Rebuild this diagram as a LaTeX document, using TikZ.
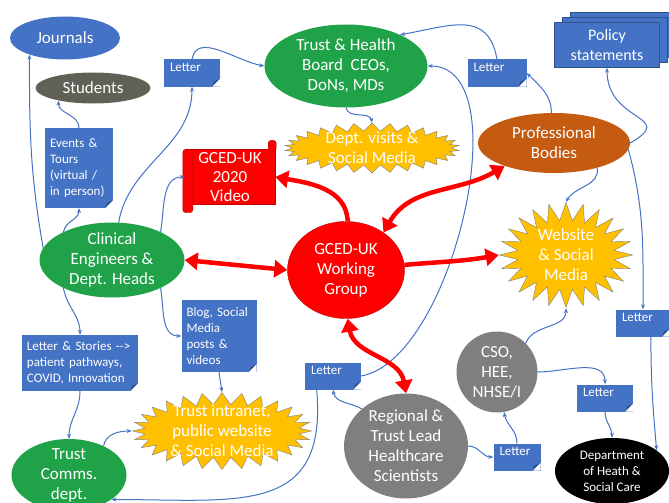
\documentclass[tikz,border=0pt]{standalone}
\usepackage{fontspec}
\setmainfont{Carlito}
\usepackage{tikz}
\usetikzlibrary{positioning,shapes.geometric,shapes.symbols,shadows,arrows.meta}

\definecolor{docblue}{RGB}{68,114,196}
\definecolor{docdark}{RGB}{47,82,143}
\definecolor{cegreen}{RGB}{32,163,72}
\definecolor{stgray}{RGB}{96,96,86}
\definecolor{burstyellow}{RGB}{255,192,0}
\definecolor{profbrown}{RGB}{197,90,17}
\definecolor{hsgray}{RGB}{127,127,127}
\definecolor{darkred}{RGB}{192,0,0}

\newcommand{\bigtxt}{\fontsize{17}{20}\selectfont}
\newcommand{\notetxt}{\fontsize{13}{16}\selectfont}

\begin{document}
\begin{tikzpicture}[x=1pt,y=1pt,on grid,
  bubble/.style={ellipse,inner sep=0pt,inner ysep=-2pt,text=white,align=center,font=\bigtxt},
  burst/.style={starburst,random starburst=0,fill=burstyellow,draw=hsgray,text=white,align=center,font=\bigtxt,inner sep=0pt},
  note/.style={rectangle,fill=docblue,text=white,align=left,font=\notetxt,inner xsep=5pt,inner ysep=3pt,
    path picture={
      \fill[white] ([xshift=-8pt]path picture bounding box.south east) -- ([yshift=8pt]path picture bounding box.south east) -- (path picture bounding box.south east) -- cycle;
      \fill[docdark] ([xshift=-8pt]path picture bounding box.south east) -- ([yshift=8pt]path picture bounding box.south east) -- ([xshift=-6pt,yshift=5pt]path picture bounding box.south east) -- cycle;}},
  letter/.style={note,text width=44pt,text height=9pt,text depth=12pt,inner xsep=6pt},
  link/.style={docblue,line width=1pt,-{Stealth[length=5pt,width=4pt]}},
  bigred/.style={red,line width=4.5pt,>={Triangle[length=13pt,width=17pt]}}]
  \useasboundingbox (0,0) rectangle (669,-503);

  \node[bubble,fill=red,draw=darkred,minimum width=117pt,minimum height=97pt] (gced) at (346,-270) {GCED-UK\\Working\\Group};
  \node[bubble,fill=cegreen,minimum width=145pt,minimum height=75pt] (clin) [above left=10pt and 234pt of gced] {Clinical\\Engineers \&\\Dept. Heads};
  \node[bubble,fill=docblue,minimum width=110pt,minimum height=43pt] (jour) [above left=222pt and 47pt of clin] {Journals};
  \node[bubble,fill=stgray,minimum width=115pt,minimum height=31pt] (stud) [below right=50pt and 28pt of jour] {Students};
  \node[note,text width=58pt,minimum height=80pt] (events) [above left=92pt and 33pt of clin] {Events \&\\Tours\\(virtual /\\in person)};
  \node[bubble,fill=cegreen,minimum width=163pt,minimum height=83pt] (trust) [above=204pt of gced] {Trust \& Health\\Board\ \ CEOs,\\DoNs, MDs};
  \node[letter] (lettA) [below left=7pt and 154pt of trust] {Letter};
  \node[burst,starburst points=30,starburst point height=8pt,inner ysep=-6pt,minimum width=175pt,minimum height=50pt] (visits) [below right=82pt and 26pt of trust] {Dept. visits \&\\Social Media};
  \node[letter,text width=47pt] (lettB) [below right=7pt and 151pt of trust] {Letter};
  \node[bubble,fill=profbrown,minimum width=152pt,minimum height=60pt] (prof) [above right=127pt and 208pt of gced] {Professional\\Bodies};
  \node[rectangle,fill=docblue,draw=docdark,text=white,align=center,font=\fontsize{16}{20}\selectfont,inner sep=0pt,minimum width=105pt,minimum height=45pt,
    copy shadow={shadow xshift=16pt,shadow yshift=10pt,fill=docblue,draw=docdark},
    copy shadow={shadow xshift=8pt,shadow yshift=5pt,fill=docblue,draw=docdark}] (policy) [above right=98pt and 53pt of prof] {Policy\\statements};
  \node[rectangle,fill=red,draw=darkred,text=white,align=center,font=\fontsize{17}{19}\selectfont,inner sep=0pt,minimum width=90pt,minimum height=55pt] (video) [above left=93pt and 116pt of gced] {GCED-UK\\2020\\Video};
  \filldraw[fill=red,draw=darkred,rounded corners=3pt] ([xshift=-2pt]video.north west) rectangle ([xshift=8pt,yshift=-8pt]video.south west);
  \filldraw[fill=red,draw=darkred,rounded corners=3pt] ([xshift=-7pt,yshift=9pt]video.north east) rectangle ([xshift=1pt,yshift=-2pt]video.north east);
  \node[burst,starburst points=24,starburst point height=18pt,inner ysep=-4pt,minimum width=133pt,minimum height=105pt] (web) [above right=15pt and 220pt of gced] {Website\\\& Social\\Media};
  \node[note,text width=65pt,minimum height=72pt] (blog) [below right=76pt and 107pt of clin] {Blog, Social\\Media\\posts \&\\videos};
  \node[note,text width=106pt,minimum height=56pt] (stories) [below left=103pt and 32pt of clin] {Letter \& Stories -{}->\\patient pathways,\\COVID, Innovation};
  \node[burst,starburst points=28,starburst point height=12pt,inner ysep=-10pt,minimum width=179pt,minimum height=77pt] (intra) [below right=95pt and 3pt of blog] {Trust intranet,\\public website\\\& Social Media};
  \node[bubble,fill=cegreen,minimum width=115pt,minimum height=72pt] (comms) [below left=112pt and 11pt of stories] {Trust\\Comms.\\dept.};
  \node[bubble,fill=hsgray,minimum width=124pt,minimum height=105pt] (region) [below right=176pt and 60pt of gced] {Regional \&\\Trust Lead\\Healthcare\\Scientists};
  \node[letter] (lettC) [above left=70pt and 73pt of region] {Letter};
  \node[bubble,fill=hsgray,minimum width=81pt,minimum height=81pt] (cso) [above right=74pt and 91pt of region] {CSO,\\HEE,\\NHSE/I};
  \node[letter,text width=35pt] (lettE) [below right=11pt and 111pt of region] {Letter};
  \node[letter] (lettD) [below right=26pt and 108pt of cso] {Letter};
  \node[bubble,fill=black,font=\notetxt,minimum width=114pt,minimum height=66pt] (dept) [below right=73pt and 7pt of lettD] {Department\\of Heath \&\\Social Care};
  \node[letter,text width=42pt] (lettF) [above right=148pt and 31pt of dept] {Letter};

  \path[link]
  (clin.170) edge [out=100,in=-90] (jour.205)
  (clin.150) edge [out=80,in=-90] (events.south)
  (events.north) edge [out=90,in=-90] (stud.200)
  (clin.80) edge [out=80,in=-90] (lettA.south)
  (lettA.north) edge [out=80,in=170] (trust.west)
  (clin.30) edge [out=80,in=180] (video.west)
  (clin.-30) edge [out=-80,in=180] (blog.west)
  (clin.210) edge [out=-80,in=90] (stories.north)
  (stories.south) edge [out=-90,in=90] (comms.north)
  (blog.south) edge (intra.north)
  (comms.40) edge [out=80,in=180] (intra.west)
  (region.140) edge [out=150,in=-80] (lettC.south)
  (lettC.220) edge [out=-85,in=0,looseness=1.4] (comms.-30)
  (lettC.east) edge [out=10,in=0,looseness=0.75] (trust.east)
  (trust.-90) edge [out=-80,in=100] (visits.north)
  (lettB.north) edge [out=100,in=10,looseness=1.3] (trust.30)
  (prof.95) edge [out=90,in=-45] (lettB.east)
  (prof.east) edge [out=30,in=-90,looseness=1.8] (policy.south)
  (prof.-5) edge [out=-75,in=90] (lettF.north)
  (lettF.-60) edge [out=-90,in=95] (dept.25)
  (prof.-30) edge [out=-80,in=60] (web.north)
  (cso.45) edge [out=70,in=-90] (web.south)
  (cso.east) edge [out=0,in=90] (lettD.north)
  (lettD.south) edge [out=-90,in=90] (dept.north)
  (region.east) edge [out=0,in=180] (lettE.west)
  (lettE.north) edge [out=90,in=-80] (cso.-80)
  ;
  \path[bigred]
  (gced.west) edge [<->] (clin.east)
  (gced.88) edge [->,out=92,in=-10] (video.east)
  (gced.45) edge [<->,out=60,in=210] (prof.205)
  (gced.5) edge [->,out=5,in=190] (web.west)
  (gced.-88) edge [<->,out=-80,in=100] (region.north)
  ;
\end{tikzpicture}
\end{document}
